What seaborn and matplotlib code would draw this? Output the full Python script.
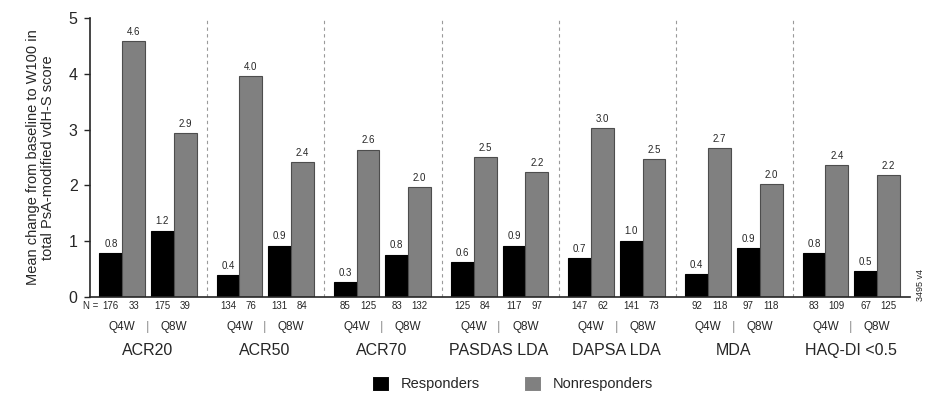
import numpy as np
import pandas as pd
import matplotlib
matplotlib.use("Agg")
import matplotlib.pyplot as plt
import seaborn as sns

# Outcome groups and dose regimens
outcomes = ["ACR20", "ACR50", "ACR70", "PASDAS LDA", "DAPSA LDA", "MDA", "HAQ-DI <0.5"]
regimens = ["Q4W", "Q8W"]

# Mean change (Q4W responders, Q4W nonresponders, Q8W responders, Q8W nonresponders)
q4w_resp = [0.79, 0.39, 0.27, 0.63, 0.69, 0.41, 0.79]
q4w_nonresp = [4.59, 3.96, 2.64, 2.51, 3.03, 2.66, 2.36]
q8w_resp = [1.19, 0.92, 0.76, 0.92, 1.01, 0.87, 0.47]
q8w_nonresp = [2.93, 2.41, 1.97, 2.23, 2.47, 2.02, 2.19]

# Number of patients
n_q4w_resp = [176, 134, 85, 125, 147, 92, 83]
n_q4w_nonresp = [33, 76, 125, 84, 62, 118, 109]
n_q8w_resp = [175, 131, 83, 117, 141, 97, 67]
n_q8w_nonresp = [39, 84, 132, 97, 73, 118, 125]

sns.set_style("ticks")
plt.rcParams["font.family"] = ["Liberation Sans", "DejaVu Sans"]

# bar layout inside each outcome group (group spans one x unit)
bw = 0.195
starts = [0.08, 0.52]
rows = []
series = [
    (q4w_resp, n_q4w_resp, "Responders", 0),
    (q4w_nonresp, n_q4w_nonresp, "Nonresponders", 0),
    (q8w_resp, n_q8w_resp, "Responders", 1),
    (q8w_nonresp, n_q8w_nonresp, "Nonresponders", 1),
]
for vals, ns, status, r in series:
    shift = bw / 2 if status == "Responders" else bw * 1.5
    for g, (v, n) in enumerate(zip(vals, ns)):
        rows.append({"x": round(g + starts[r] + shift, 4), "value": v, "n": n,
                     "status": status})
df = pd.DataFrame(rows)

fig = plt.figure(figsize=(9.28, 3.98), dpi=100)
ax = fig.add_axes([0.097, 0.254, 0.884, 0.701])

sns.barplot(data=df, x="x", y="value", hue="status", native_scale=True,
            dodge=False, width=1.0, palette={"Responders": "#000000",
                                             "Nonresponders": "#808080"},
            hue_order=["Responders", "Nonresponders"], ax=ax,
            errorbar=None, linewidth=0.8)

for cont, ec in zip(ax.containers, ["#000000", "#4d4d4d"]):
    for p in cont:
        p.set_edgecolor(ec)
        p.set_width(bw)
    ax.bar_label(cont, fmt="%.1f", padding=3, fontsize=7)

ax.set_xlim(0, 7)
ax.set_ylim(0, 5)
ax.set_yticks(range(6))
ax.tick_params(axis="y", labelsize=11.5, length=4, width=1, pad=5)
ax.set_xticks([])
ax.set_xlabel("")
ax.set_ylabel("Mean change from baseline to W100 in\ntotal PsA-modified vdH-S score",
              fontsize=10.5, labelpad=10, linespacing=1.1)
sns.despine(ax=ax)
for s in ["left", "bottom"]:
    ax.spines[s].set_linewidth(1.2)

ax.vlines(range(1, 7), 0, 5, colors="#9a9a9a", linestyles=(0, (3, 3)), linewidth=0.8)

# N labels, regimen labels, outcome labels
for _, row in df.iterrows():
    ax.text(row["x"], -0.16, str(int(row["n"])), ha="center", va="center",
            fontsize=7, clip_on=False)
ax.text(0.075, -0.16, "N =", ha="right", va="center", fontsize=7, clip_on=False)
for g, name in enumerate(outcomes):
    for r, reg in enumerate(regimens):
        ax.text(g + starts[r] + bw, -0.54, reg, ha="center", va="center",
                fontsize=8.5, clip_on=False)
    ax.text(g + 0.49, -0.54, "|", ha="center", va="center", fontsize=9.5,
            color="#999999", clip_on=False)
    ax.text(g + 0.49, -0.96, name, ha="center", va="center", fontsize=11.5,
            clip_on=False)

sns.move_legend(ax, "lower center", bbox_to_anchor=(0.515, -0.385), ncol=2,
                frameon=False, title=None, fontsize=10.5, handlelength=1.2,
                handleheight=1.2, columnspacing=3)

fig.text(0.992, 0.285, "3495 v4", rotation=90, ha="center", va="center", fontsize=6.5)

fig.savefig("out.png", dpi=100)
